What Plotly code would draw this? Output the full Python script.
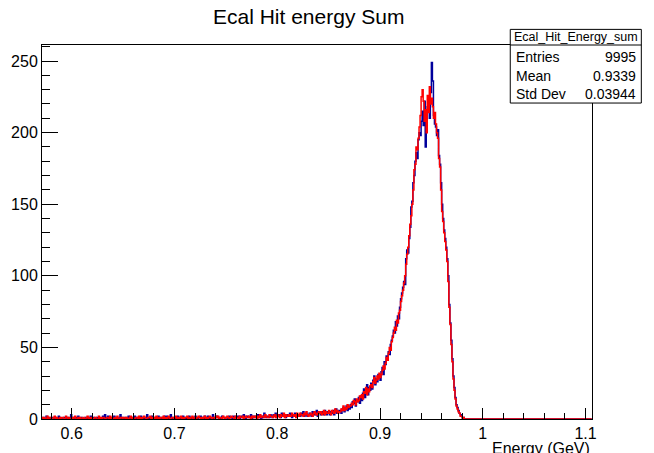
import numpy as np
import plotly.graph_objects as go

# ---------------- data ----------------
BIN_LOW = 0.571
BIN_WIDTH = 0.001

# blue histogram (counts per bin)
blue_low = [0,1,0,0,2,0,1,0,0,1,
            1,0,0,1,0,0,2,1,0,0,
            0,1,1,0,0,1,0,0,3,0,
            1,0,0,1,0,2,0,0,1,0,
            0,0,1,0,1,0,0,2,0,1,
            1,0,0,1,0,1,0,0,0,2,
            0,3,1,0,2,0,1,0,0,1,
            2,0,1,0,0,1,3,0,1,0]
blue_mid = [0,1,0,1,2,0,0,1,1,0,
            2,0,1,0,1,0,2,1,0,1,
            0,1,3,0,1,0,0,2,1,0,
            1,0,1,2,0,1,0,1,0,2,
            0,2,1,0,1,3,0,1,1,0,
            1,0,2,1,0,1,0,2,1,1,
            0,1,0,2,1,0,1,1,0,2,
            1,0,1,1,2,0,1,0,2,1,
            0,2,1,0,1,1,3,0,1,1,
            2,1,0,1,0,2,1,1,0,1]
blue_rise = [1,0,2,1,1,0,2,1,1,2,
             1,2,0,1,2,1,3,1,0,2,
             2,1,1,3,0,2,1,2,1,1,
             3,1,2,0,2,1,4,2,1,2,
             2,1,3,2,1,3,2,4,1,2,
             3,2,1,4,2,3,2,1,3,2,
             2,4,3,1,3,2,4,3,2,3,
             3,2,4,3,5,2,3,4,2,3,
             4,3,2,5,3,4,3,6,2,4,
             4,3,5,4,3,6,4,3,5,4]
blue_peak = [3,5,4,6,3,5,7,4,5,6,
             6,4,7,8,5,7,9,6,8,7,
             10,8,12,11,14,9,13,12,15,11,
             16,13,18,21,15,19,24,17,22,20,
             25,21,27,30,24,28,26,31,29,27,
             33,36,31,40,38,44,42,47,45,52,
             55,58,62,60,68,65,72,70,78,84,
             88,92,96,94,112,118,116,126,134,148,
             152,165,170,180,186,182,195,200,198,208,
             215,205,222,190,212,218,224,210,228,249,
             236,212,206,204,198,202,184,178,165,150,
             140,132,126,120,112,100,80,67,55,42,
             30,22,15,10,8,6,4,3,2,1,
             1,0,0,0,0,0,0,0,0,0]
blue_high = [0,0,0,0,0,0,0,0,0,0,
             0,0,0,0,0,0,0,0,0,0,
             0,0,0,0,0,0,0,0,0,0,
             0,0,0,0,0,0,0,0,0,0,
             0,0,0,0,0,0,0,0,0,0,
             0,0,0,0,0,0,0,0,0,0,
             0,0,0,0,0,0,0,0,0,0,
             0,0,0,0,0,0,0,0,0,0,
             0,0,0,0,0,0,0,0,0,0,
             0,0,0,0,0,0,0,0,0,0,
             0,0,0,0,0,0,0,0,0,0,
             0,0,0,0,0]

# red histogram (counts per bin)
red_low = [1,0,1,0,0,2,0,1,1,0,
           0,1,2,0,1,0,0,1,0,1,
           1,0,0,2,1,0,1,0,0,1,
           0,1,2,0,0,1,0,1,0,0,
           1,0,0,1,2,0,1,0,1,0,
           0,1,1,0,0,2,0,1,0,1,
           1,0,0,1,1,0,2,0,1,0,
           0,1,0,2,0,0,1,1,0,1]
red_mid = [1,0,1,0,0,1,2,0,1,0,
           0,1,1,0,2,0,1,0,1,2,
           1,0,0,1,1,2,0,1,0,1,
           0,2,0,1,0,1,1,0,2,0,
           1,0,1,2,0,0,1,1,0,1,
           2,0,1,0,1,2,0,1,0,1,
           1,2,0,1,0,1,2,0,1,1,
           0,1,2,1,0,1,0,1,2,0,
           1,0,1,2,1,0,1,1,0,2,
           1,2,0,1,1,0,2,1,0,1]
red_rise = [2,1,0,1,2,1,1,0,2,1,
            1,0,2,1,1,2,0,1,2,1,
            1,2,1,0,2,1,2,1,2,0,
            2,1,3,1,2,2,1,3,2,1,
            1,3,2,2,1,2,3,1,2,3,
            2,1,3,2,2,4,1,3,2,2,
            3,2,2,4,3,2,3,1,4,3,
            2,4,3,3,2,4,3,5,3,2,
            3,4,3,2,4,5,3,4,3,5,
            4,5,3,4,6,3,5,4,4,6]
red_peak = [4,3,6,5,4,7,5,6,4,5,
            5,7,6,9,6,8,7,10,8,9,
            9,11,10,13,12,10,14,12,13,16,
            15,17,14,19,18,22,17,21,19,23,
            24,22,26,29,25,27,30,28,32,29,
            31,34,37,35,39,43,41,46,50,48,
            54,57,60,64,62,69,67,74,76,82,
            86,90,95,100,108,115,120,128,136,142,
            150,160,174,178,190,188,196,204,212,225,
            230,222,208,216,200,226,214,232,220,224,
            218,210,214,206,200,196,182,176,160,145,
            138,130,124,118,110,96,78,66,52,40,
            28,20,14,9,7,5,4,2,2,0,
            1,0,0,0,0,0,0,0,0,0]
red_high = [0,0,0,0,0,0,0,0,0,0,
            0,0,0,0,0,0,0,0,0,0,
            0,0,0,0,0,0,0,0,0,0,
            0,0,0,0,0,0,0,0,0,0,
            0,0,0,0,0,0,0,0,0,0,
            0,0,0,0,0,0,0,0,0,0,
            0,0,0,0,0,0,0,0,0,0,
            0,0,0,0,0,0,0,0,0,0,
            0,0,0,0,0,0,0,0,0,0,
            0,0,0,0,0,0,0,0,0,0,
            0,0,0,0,0,0,0,0,0,0,
            0,0,0,0,0]

x_tick_vals = [0.6, 0.7, 0.8, 0.9, 1.0, 1.1]
x_tick_text = ["0.6", "0.7", "0.8", "0.9", "1", "1.1"]
y_tick_vals = [0, 50, 100, 150, 200, 250]
y_tick_text = ["0", "50", "100", "150", "200", "250"]

title_text = "Ecal Hit energy Sum"
x_title = "Energy (GeV)"
stats_name = "Ecal_Hit_Energy_sum"
stats_labels = ["Entries", "Mean", "Std Dev"]
stats_values = ["9995", "0.9339", "0.03944"]

# ---------------- figure ----------------
blue = blue_low + blue_mid + blue_rise + blue_peak + blue_high
red = red_low + red_mid + red_rise + red_peak + red_high
nb = len(blue)
edges = np.round(BIN_LOW + BIN_WIDTH * np.arange(nb + 1), 6)


def step_xy(counts):
    xs = list(edges)
    ys = list(counts) + [counts[-1]]
    return xs, ys


FONT = "Liberation Sans, Arial, Helvetica, sans-serif"
W, H = 654, 453
L, R, T, B = 42, 591.7, 45, 418.7  # plot frame in pixels

fig = go.Figure()
bx, by = step_xy(blue)
fig.add_trace(go.Scatter(x=bx, y=by, mode="lines",
                         line=dict(shape="hv", color="#00009c", width=1.5),
                         hoverinfo="skip", showlegend=False))
rx, ry = step_xy(red)
fig.add_trace(go.Scatter(x=rx, y=ry, mode="lines",
                         line=dict(shape="hv", color="#ff0000", width=1.5),
                         hoverinfo="skip", showlegend=False))


def px_x(p):
    return (p - L) / (R - L)


def px_y(p):
    return (B - p) / (B - T)


fig.update_layout(
    width=W, height=H, autosize=False,
    margin=dict(l=L, r=W - R, t=T, b=H - B, pad=0),
    paper_bgcolor="white", plot_bgcolor="white",
    font=dict(family=FONT, color="black"),
    showlegend=False,
    xaxis=dict(range=[0.5711, 1.1063], tickmode="array",
               tickvals=x_tick_vals, ticktext=x_tick_text,
               ticks="inside", ticklen=11, tickwidth=1, tickcolor="black",
               showline=True, linecolor="black", linewidth=1, mirror=True,
               showgrid=False, zeroline=False,
               tickfont=dict(size=16, family=FONT),
               minor=dict(dtick=0.02, tick0=0.6, ticks="inside", ticklen=6,
                          tickcolor="black", tickwidth=1, showgrid=False)),
    yaxis=dict(range=[0, 261.2], tickmode="array",
               tickvals=y_tick_vals, ticktext=y_tick_text,
               ticks="inside", ticklen=16, tickwidth=1, tickcolor="black",
               showline=True, linecolor="black", linewidth=1, mirror=True,
               showgrid=False, zeroline=False,
               tickfont=dict(size=16, family=FONT),
               minor=dict(dtick=10, tick0=0, ticks="inside", ticklen=8,
                          tickcolor="black", tickwidth=1, showgrid=False)),
)

# title
fig.add_annotation(text=title_text, xref="paper", yref="paper",
                   x=px_x(308), y=px_y(17), xanchor="center", yanchor="middle",
                   showarrow=False, font=dict(size=21, family=FONT, color="black"))
# x axis title (right aligned at frame edge, bottom clipped by the page)
fig.add_annotation(text=x_title, xref="paper", yref="paper",
                   x=1.0, y=px_y(438), xanchor="right", yanchor="top",
                   showarrow=False, font=dict(size=16, family=FONT, color="black"))

# stats box
sx0, sx1, sy0, sy1, ssep = 510, 641, 103, 29.4, 45
fig.add_shape(type="rect", xref="paper", yref="paper",
              x0=px_x(sx0), x1=px_x(sx1), y0=px_y(sy0), y1=px_y(sy1),
              line=dict(color="black", width=1), fillcolor="white", layer="above")
fig.add_shape(type="line", xref="paper", yref="paper",
              x0=px_x(sx0), x1=px_x(sx1), y0=px_y(ssep), y1=px_y(ssep),
              line=dict(color="black", width=1), layer="above")
fig.add_annotation(text=stats_name, xref="paper", yref="paper",
                   x=px_x((sx0 + sx1) / 2), y=px_y(37.5), xanchor="center",
                   yanchor="middle", showarrow=False,
                   font=dict(size=12.5, family=FONT, color="black"))
row_y = [57.0, 75.5, 94.0]
for lab, val, yy in zip(stats_labels, stats_values, row_y):
    fig.add_annotation(text=lab, xref="paper", yref="paper",
                       x=px_x(sx0 + 4), y=px_y(yy), xanchor="left", yanchor="middle",
                       showarrow=False, font=dict(size=14, family=FONT, color="black"))
    fig.add_annotation(text=val, xref="paper", yref="paper",
                       x=px_x(sx1 - 3), y=px_y(yy), xanchor="right", yanchor="middle",
                       showarrow=False, font=dict(size=14, family=FONT, color="black"))

fig.write_html("out.html")
